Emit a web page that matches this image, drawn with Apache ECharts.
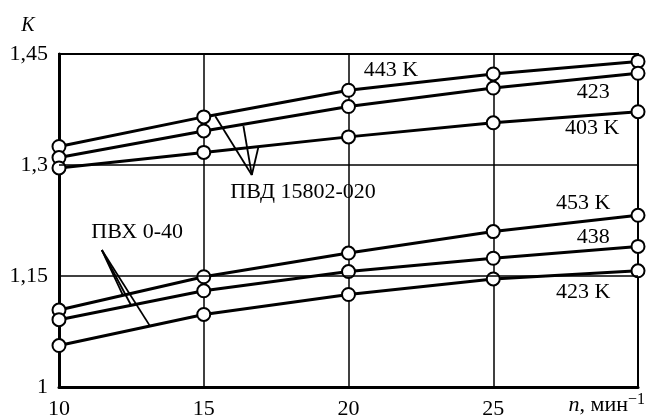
<!DOCTYPE html>
<html>
<head>
<meta charset="utf-8">
<script src="https://cdn.jsdelivr.net/npm/echarts@6/dist/echarts.min.js"></script>
<style>
  html, body { margin: 0; padding: 0; background: #fff; }
  #chart { width: 646px; height: 418px; }
</style>
</head>
<body>
<div id="chart"></div>
<script>
// Screw speed n, min^-1
const speeds = [10, 15, 20, 25, 30];

// K versus n: ПВД 15802-020 at three melt temperatures
const pvd443 = [1.325, 1.365, 1.401, 1.423, 1.440];
const pvd423 = [1.310, 1.346, 1.379, 1.404, 1.424];
const pvd403 = [1.296, 1.317, 1.338, 1.357, 1.372];

// K versus n: ПВХ 0-40 at three melt temperatures
const pvx453 = [1.104, 1.149, 1.181, 1.210, 1.232];
const pvx438 = [1.091, 1.130, 1.156, 1.174, 1.190];
const pvx423 = [1.056, 1.098, 1.125, 1.146, 1.157];

// Axis ticks
const yTicks = [1, 1.15, 1.3, 1.45];
const xTicks = [10, 15, 20, 25];

// Curve captions, anchored in data coordinates [n, K]
const captions = [
  { text: '443 K', at: [21.47, 1.4284] },
  { text: '423', at: [28.45, 1.3986] },
  { text: '403 K', at: [28.42, 1.350] },
  { text: 'ПВД 15802-020', at: [18.43, 1.2635] },
  { text: '453 K', at: [28.11, 1.2486] },
  { text: '438', at: [28.45, 1.2027] },
  { text: '423 K', at: [28.11, 1.1284] },
  { text: 'ПВХ 0-40', at: [12.70, 1.2095] }
];

// Leader lines from each material caption to its curves, data coordinates
const leaders = [
  [[16.66, 1.2865], [15.40, 1.366]],
  [[16.66, 1.2865], [16.37, 1.3527]],
  [[16.66, 1.2865], [16.89, 1.3247]],
  [[11.48, 1.1851], [12.21, 1.1239]],
  [[11.48, 1.1851], [12.49, 1.1105]],
  [[11.48, 1.1851], [13.14, 1.0826]]
];

const FONT = '"Liberation Serif", "Times New Roman", serif';
const series_list = [pvd443, pvd423, pvd403, pvx453, pvx438, pvx423];

const chart = echarts.init(document.getElementById('chart'), null, { renderer: 'canvas' });

const lineSeries = series_list.map(function (vals) {
  return {
    type: 'line',
    data: speeds.map(function (n, j) { return [n, vals[j]]; }),
    symbol: 'circle',
    symbolSize: 13,
    showAllSymbol: true,
    clip: false,
    z: 3,
    lineStyle: { color: '#000', width: 3 },
    itemStyle: { color: '#fff', borderColor: '#000', borderWidth: 2 },
    emphasis: { disabled: true },
    animation: false
  };
});

// Horizontal grid lines and leader lines carried by the first series
lineSeries[0].markLine = {
  silent: true,
  symbol: ['none', 'none'],
  animation: false,
  label: { show: false },
  lineStyle: { color: '#000', width: 1.5, type: 'solid' },
  data: [
    { yAxis: 1.15 },
    { yAxis: 1.3 }
  ].concat(leaders.map(function (seg) {
    return [{ coord: seg[0], lineStyle: { width: 1.8 } }, { coord: seg[1] }];
  }))
};

chart.setOption({
  backgroundColor: '#fff',
  animation: false,
  grid: {
    left: 59, right: 8, top: 54, bottom: 31,
    outerBoundsMode: 'none',
    containLabel: false,
    show: true, borderColor: '#000', borderWidth: 2
  },
  xAxis: {
    type: 'value',
    min: 10, max: 30, interval: 5,
    axisLine: { show: true, onZero: false, lineStyle: { color: '#000', width: 3 } },
    axisTick: { show: false },
    splitLine: { show: true, lineStyle: { color: '#000', width: 1.5 } },
    axisLabel: {
      customValues: xTicks,
      margin: 11,
      color: '#000',
      fontFamily: FONT,
      fontSize: 22
    }
  },
  yAxis: {
    type: 'value',
    min: 1, max: 1.45,
    axisLine: { show: true, onZero: false, lineStyle: { color: '#000', width: 3 } },
    axisTick: { show: false },
    splitLine: { show: false },
    axisLabel: {
      customValues: yTicks,
      margin: 11,
      color: '#000',
      fontFamily: FONT,
      fontSize: 22,
      formatter: function (v) { return String(Math.round(v * 100) / 100).replace('.', ','); }
    }
  },
  series: lineSeries
});

// Captions and axis titles
const graphics = captions.map(function (c) {
  const p = chart.convertToPixel({ gridIndex: 0 }, c.at);
  return {
    type: 'text',
    x: p[0], y: p[1],
    z: 10,
    style: {
      text: c.text,
      fill: '#000',
      font: '22px ' + FONT,
      align: 'center',
      verticalAlign: 'middle'
    }
  };
});

graphics.push({
  type: 'text',
  x: 28, y: 26,
  style: {
    text: 'K',
    fill: '#000',
    font: 'italic 20px ' + FONT,
    align: 'center',
    verticalAlign: 'middle'
  }
});

graphics.push({
  type: 'text',
  x: 645, y: 418,
  style: {
    text: '{i|n}, мин{s|−1}',
    fill: '#000',
    font: '22px ' + FONT,
    align: 'right',
    verticalAlign: 'bottom',
    rich: {
      i: { font: 'italic 22px ' + FONT, fill: '#000' },
      s: { font: '16px ' + FONT, fill: '#000', verticalAlign: 'top', padding: [0, 0, 10, 0] }
    }
  }
});

chart.setOption({ graphic: graphics });
</script>
</body>
</html>
